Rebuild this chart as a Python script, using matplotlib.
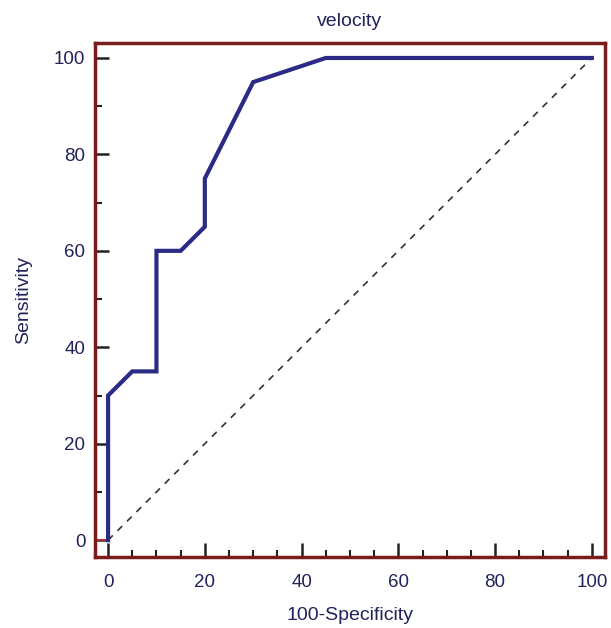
import matplotlib
matplotlib.use("Agg")
import matplotlib.pyplot as plt
from matplotlib.ticker import MultipleLocator

fpr = [0, 0, 5, 10, 10, 15, 20, 20, 30, 45, 100]
tpr = [0, 30, 35, 35, 60, 60, 65, 75, 95, 100, 100]
xticks = [0, 20, 40, 60, 80, 100]
yticks = [0, 20, 40, 60, 80, 100]

plt.rcParams['font.family'] = ['Liberation Sans', 'DejaVu Sans']
fig = plt.figure(figsize=(6.11, 6.28), dpi=100)
ax = fig.add_axes([0.1555, 0.113, 0.8345, 0.8185])
txt = '#22225a'
spine = '#7a1c1c'

ax.plot([0, 100], [0, 100], ls=(0, (4, 4)), color='#333333', lw=1.2)
ax.plot([-2.7, 0], [0, 0], color='#b03030', lw=1.5)
ax.plot(fpr, tpr, color='#2b2b85', lw=3, solid_joinstyle='miter')

ax.set_xlim(-2.7, 102.7)
ax.set_ylim(-3.5, 103.1)
ax.set_xticks(xticks)
ax.set_yticks(yticks)
ax.xaxis.set_minor_locator(MultipleLocator(5))
ax.yaxis.set_minor_locator(MultipleLocator(10))
ax.tick_params(which='major', direction='in', length=10, width=1.8, color='#222222',
               labelsize=13.5, labelcolor=txt)
ax.tick_params(axis='x', which='major', pad=12)
ax.tick_params(axis='y', which='major', pad=7)
ax.tick_params(which='minor', direction='in', length=5, width=1.5, color='#222222')
for s in ax.spines.values():
    s.set_color(spine)
    s.set_linewidth(2.5)

ax.set_title('velocity', color=txt, fontsize=14, pad=12)
ax.set_xlabel('100-Specificity', color=txt, fontsize=14, labelpad=12)
ax.set_ylabel('Sensitivity', color=txt, fontsize=14, labelpad=16)

fig.savefig('out.png', dpi=100)
